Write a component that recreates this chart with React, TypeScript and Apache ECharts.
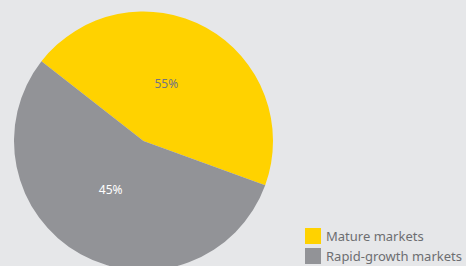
import React, { useEffect, useRef } from "react";
import * as echarts from "echarts";

const categories = ["Mature markets", "Rapid-growth markets"];
const sliceValues = [45, 55];
// percentage labels as printed on the chart
const labelTexts = ["55%", "45%"];
const colors = ["#FFD200", "#929397"];
const labelColors = ["#747480", "#FFFFFF"];
const labelOffsets = [[-10, 2], [0, -11]];

export default function App() {
  const ref = useRef<HTMLDivElement>(null);
  useEffect(() => {
    document.body.style.margin = "0";
    document.body.style.background = "#E6E7E9";
    const chart = echarts.init(ref.current!, null, { renderer: "svg" });
    chart.setOption({
      animation: false,
      backgroundColor: "#E6E7E9",
      legend: {
        orient: "vertical",
        left: 305,
        top: 228,
        height: 80,
        padding: 0,
        itemWidth: 16,
        itemHeight: 16,
        itemGap: 4,
        icon: "rect",
        data: categories,
        textStyle: {
          color: "#6D6E71",
          fontSize: 13,
          fontFamily: "Noto Sans",
        },
      },
      series: [
        {
          type: "pie",
          center: [143.5, 141],
          radius: 129.5,
          startAngle: 142,
          clockwise: true,
          avoidLabelOverlap: false,
          labelLine: { show: false },
          data: categories.map((name, i) => ({
            name,
            value: sliceValues[i],
            itemStyle: { color: colors[i] },
            label: {
              show: true,
              position: "inside",
              formatter: labelTexts[i],
              color: labelColors[i],
              fontSize: 12,
              fontFamily: "Noto Sans",
              offset: labelOffsets[i],
            },
          })),
        },
      ],
    });
    return () => chart.dispose();
  }, []);
  return <div ref={ref} style={{ width: 466, height: 266 }} />;
}
